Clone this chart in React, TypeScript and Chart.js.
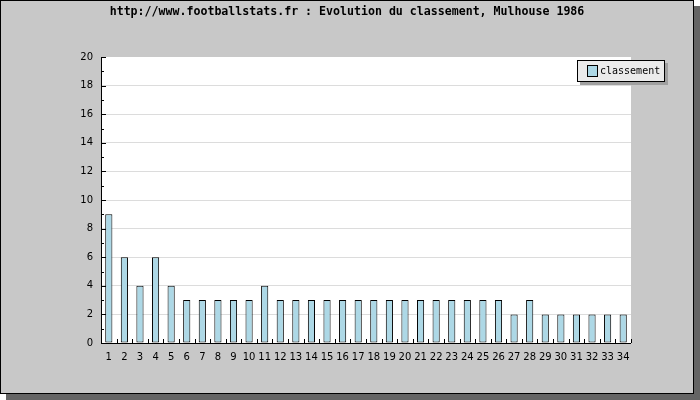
import React, { useEffect, useRef } from "react";
import { Chart, registerables } from "chart.js";
Chart.register(...registerables);

const TITLE = "http://www.footballstats.fr : Evolution du classement, Mulhouse 1986";
const SERIES_LABEL = "classement";
const ROUNDS = Array.from({ length: 34 }, (_, i) => String(i + 1));
const POSITIONS = [9, 6, 4, 6, 4, 3, 3, 3, 3, 3, 4, 3, 3, 3, 3, 3, 3, 3, 3, 3, 3, 3, 3, 3, 3, 3, 2, 3, 2, 2, 2, 2, 2, 2];
const Y_MIN = 0;
const Y_MAX = 20;

const frame = {
  id: "frame",
  beforeDraw(chart: any) {
    const { ctx, width, height } = chart;
    ctx.save();
    ctx.fillStyle = "#ffffff";
    ctx.fillRect(0, 0, width, height);
    ctx.fillStyle = "#646464";
    ctx.fillRect(6, 6, width - 6, height - 6);
    ctx.fillStyle = "#c8c8c8";
    ctx.fillRect(0, 0, width - 6, height - 6);
    ctx.strokeStyle = "#000";
    ctx.lineWidth = 1;
    ctx.strokeRect(0.5, 0.5, width - 7, height - 7);
    const a = chart.chartArea;
    ctx.fillStyle = "#ffffff";
    ctx.fillRect(a.left, a.top, a.right - a.left, a.bottom - a.top);
    ctx.fillStyle = "#000";
    ctx.font = "bold 11.6px 'DejaVu Sans Mono'";
    ctx.textAlign = "center";
    ctx.textBaseline = "middle";
    ctx.fillText(TITLE, (width - 6) / 2, 12);
    ctx.restore();
  },
  afterDraw(chart: any) {
    const { ctx } = chart;
    const a = chart.chartArea;
    const x = chart.scales.x;
    const y = chart.scales.y;
    ctx.save();
    ctx.strokeStyle = "#000";
    ctx.lineWidth = 1;
    ctx.beginPath();
    ctx.moveTo(a.left + 0.5, a.top);
    ctx.lineTo(a.left + 0.5, a.bottom + 0.5);
    ctx.lineTo(a.right, a.bottom + 0.5);
    for (let i = 0; i <= ROUNDS.length; i++) {
      const px = Math.round(x.getPixelForValue(i - 0.5)) + 0.5;
      ctx.moveTo(px, a.bottom);
      ctx.lineTo(px, a.bottom - 4);
    }
    for (let v = Y_MIN; v <= Y_MAX; v += 1) {
      const py = Math.round(y.getPixelForValue(v)) + 0.5;
      ctx.moveTo(a.left, py);
      ctx.lineTo(a.left + (v % 2 === 0 ? 5 : 3), py);
    }
    ctx.stroke();
    const lx = 577, ly = 60, lw = 88, lh = 22;
    ctx.fillStyle = "#a0a0a0";
    ctx.fillRect(lx + 3, ly + 3, lw, lh);
    ctx.fillStyle = "#ebebeb";
    ctx.fillRect(lx, ly, lw, lh);
    ctx.strokeRect(lx + 0.5, ly + 0.5, lw - 1, lh - 1);
    const ds = chart.data.datasets[0];
    ctx.fillStyle = ds.backgroundColor;
    ctx.fillRect(587, 65, 11, 12);
    ctx.strokeRect(587.5, 65.5, 10, 11);
    ctx.fillStyle = "#000";
    ctx.font = "10px 'DejaVu Sans Mono'";
    ctx.textAlign = "left";
    ctx.textBaseline = "middle";
    ctx.fillText(ds.label, 600, 71);
    ctx.restore();
  },
};

export default function App() {
  const ref = useRef<HTMLCanvasElement>(null);
  useEffect(() => {
    document.body.style.margin = "0";
    const chart = new Chart(ref.current!, {
      type: "bar",
      data: {
        labels: ROUNDS,
        datasets: [
          {
            label: SERIES_LABEL,
            data: POSITIONS,
            backgroundColor: "#add8e6",
            borderColor: "#000000",
            borderWidth: 1,
            borderSkipped: false,
            barPercentage: 0.46,
            categoryPercentage: 1,
          },
        ],
      },
      options: {
        animation: false,
        responsive: false,
        devicePixelRatio: 1,
        layout: { padding: { left: 60, right: 69, top: 57, bottom: 37 } },
        plugins: { legend: { display: false }, tooltip: { enabled: false }, title: { display: false } },
        scales: {
          x: {
            offset: true,
            grid: { display: false },
            border: { display: false },
            ticks: { color: "#000", font: { family: "DejaVu Sans", size: 10 }, maxRotation: 0, autoSkip: false, padding: 0 },
            afterFit: (s: any) => { s.height = 20; },
          },
          y: {
            min: Y_MIN,
            max: Y_MAX,
            border: { display: false },
            grid: {
              drawTicks: false,
              color: (c: any) => (c.tick && c.tick.value % 2 === 0 && c.tick.value !== 0 && c.tick.value !== Y_MAX ? "#dcdcdc" : "transparent"),
            },
            ticks: {
              stepSize: 1,
              color: "#000",
              font: { family: "DejaVu Sans", size: 10 },
              padding: 8,
              callback: (v: any) => (v % 2 === 0 ? String(v) : ""),
            },
            afterFit: (s: any) => { s.width = 41; },
          },
        },
      },
      plugins: [frame],
    });
    return () => chart.destroy();
  }, []);
  return <canvas ref={ref} width={700} height={400} style={{ display: "block" }} />;
}
